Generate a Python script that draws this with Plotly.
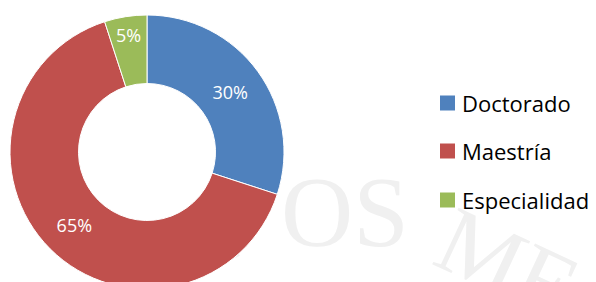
import plotly.graph_objects as go

categories = ["Doctorado", "Maestría", "Especialidad"]
values = [30, 65, 5]
colors = ["#4F81BD", "#C0504D", "#9BBB59"]

W, H = 596, 300  # figure taller than the window so the ring's bottom is clipped like the original

def px_x(x):
    return x / W

def px_y(y):
    return 1 - y / H

fig = go.Figure()

fig.add_trace(go.Pie(
    labels=categories,
    values=values,
    hole=0.5,
    sort=False,
    direction="clockwise",
    rotation=0,
    marker=dict(colors=colors, line=dict(color="white", width=1)),
    texttemplate="%{percent:.0%}",
    textposition="inside",
    insidetextorientation="horizontal",
    textfont=dict(family="Open Sans", size=18, color="white"),
    domain=dict(x=[px_x(10), px_x(284)], y=[px_y(289), px_y(15)]),
    showlegend=False,
    hoverinfo="label+percent",
))

# faint watermark under the chart
shapes = []
wm = [("N", 200, 228, 95, -25), ("OS", 345, 200, 100, 0), ("ME", 512, 255, 95, 25)]
for txt, cx, cy, size, ang in wm:
    shapes.append(dict(
        type="rect", xref="paper", yref="paper",
        x0=px_x(cx - 80), x1=px_x(cx + 80), y0=px_y(cy + 60), y1=px_y(cy - 60),
        line=dict(width=0), fillcolor="rgba(0,0,0,0)", layer="below",
        label=dict(text=txt, textposition="middle center", textangle=ang,
                   font=dict(family="Liberation Serif", size=size, color="#f0f0f0")),
    ))

# custom legend
annotations = []
leg_y = [103, 151, 200]
for name, col, yy in zip(categories, colors, leg_y):
    shapes.append(dict(
        type="rect", xref="paper", yref="paper",
        x0=px_x(440), x1=px_x(455), y0=px_y(yy + 7.5), y1=px_y(yy - 7.5),
        fillcolor=col, line=dict(width=0), layer="above",
    ))
    annotations.append(dict(
        text=name, xref="paper", yref="paper", x=px_x(460), y=px_y(yy),
        xanchor="left", yanchor="middle", showarrow=False,
        font=dict(family="Open Sans", size=22, color="#000000"),
    ))

fig.update_layout(
    width=W, height=H,
    margin=dict(l=0, r=0, t=0, b=0),
    paper_bgcolor="white", plot_bgcolor="white",
    shapes=shapes, annotations=annotations,
)

fig.write_html("out.html", config={"displayModeBar": False},
               post_script="document.body.style.margin='0';document.body.style.overflow='hidden';")
